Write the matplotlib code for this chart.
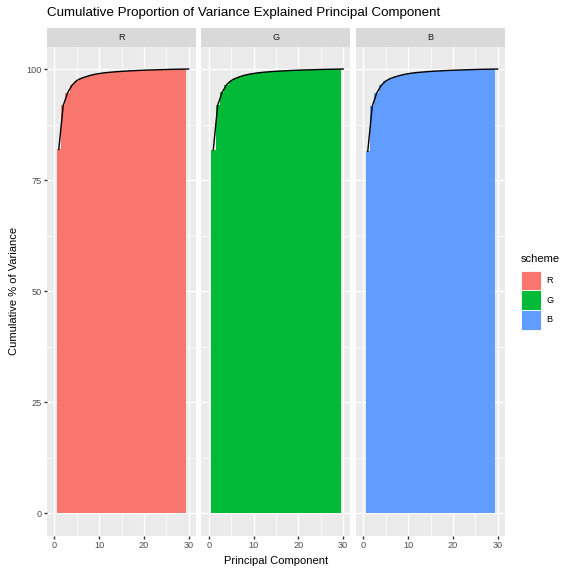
import matplotlib
matplotlib.use("Agg")
import matplotlib.pyplot as plt
from matplotlib.patches import Patch
import numpy as np

plt.rcParams['font.family'] = ['Liberation Sans', 'DejaVu Sans']

schemes = ["R", "G", "B"]
colors = ["#F8766D", "#00BA38", "#619CFF"]
pc = list(range(1, 31))
cum_R = [81.9, 91.8, 94.7, 96.4, 97.4, 97.9, 98.25, 98.55, 98.8, 98.98,
         99.12, 99.23, 99.32, 99.4, 99.47, 99.53, 99.59, 99.64, 99.69, 99.73,
         99.77, 99.8, 99.83, 99.86, 99.89, 99.92, 99.94, 99.96, 99.98, 100.0]
cum_G = [81.8, 91.9, 94.8, 96.5, 97.4, 97.9, 98.3, 98.6, 98.82, 99.0,
         99.14, 99.25, 99.34, 99.42, 99.49, 99.55, 99.6, 99.65, 99.7, 99.74,
         99.78, 99.81, 99.84, 99.87, 99.9, 99.92, 99.94, 99.96, 99.98, 100.0]
cum_B = [81.5, 91.6, 94.6, 96.3, 97.3, 97.85, 98.2, 98.5, 98.75, 98.95,
         99.1, 99.21, 99.3, 99.38, 99.46, 99.52, 99.58, 99.63, 99.68, 99.72,
         99.76, 99.8, 99.83, 99.86, 99.89, 99.92, 99.94, 99.96, 99.98, 100.0]
cums = [cum_R, cum_G, cum_B]
x_ticks = [0, 10, 20, 30]
y_ticks = [0, 25, 50, 75, 100]

W, H = 566, 572
fig = plt.figure(figsize=(W / 100, H / 100), dpi=100)

panel_top, panel_bot = 46.8, 535.5
panel_w = 149.0
lefts = [46.8, 201.3, 355.8]
strip_h = 18.5

for i, (name, col, cum) in enumerate(zip(schemes, colors, cums)):
    left = lefts[i]
    ax = fig.add_axes([left / W, 1 - panel_bot / H, panel_w / W, (panel_bot - panel_top) / H])
    ax.set_facecolor("#EBEBEB")
    ax.set_xlim(-1.67, 31.58)
    ax.set_ylim(-5, 105)
    ax.set_xticks(x_ticks)
    ax.set_xticks([5, 15, 25], minor=True)
    ax.set_yticks(y_ticks)
    ax.set_yticks([12.5, 37.5, 62.5, 87.5], minor=True)
    ax.grid(which="major", color="white", linewidth=1.0)
    ax.grid(which="minor", color="white", linewidth=0.5)
    ax.set_axisbelow(True)
    for s in ax.spines.values():
        s.set_visible(False)
    ax.tick_params(which="major", length=2.0, width=1.0, color="#333333",
                   labelcolor="#4D4D4D", labelsize=6.6, pad=1.6)
    ax.tick_params(which="minor", length=0)
    if i > 0:
        ax.tick_params(axis="y", which="major", length=0, labelleft=False)
    ax.bar(pc[:-1], cum[:-1], width=1.0, color=col, linewidth=0, zorder=2)
    ax.plot(pc, cum, color="black", linewidth=1.0, zorder=3)

    sax = fig.add_axes([left / W, 1 - panel_top / H, panel_w / W, strip_h / H])
    sax.set_facecolor("#D9D9D9")
    sax.set_xticks([])
    sax.set_yticks([])
    for s in sax.spines.values():
        s.set_visible(False)
    sax.text(0.5, 0.5, name, ha="center", va="center", fontsize=6.6,
             color="#1A1A1A", transform=sax.transAxes)

fig.text(47 / W, 1 - 13 / H, "Cumulative Proportion of Variance Explained Principal Component",
         ha="left", va="center", fontsize=9.6, color="black")
fig.text(14 / W, 1 - 291 / H, "Cumulative % of Variance", rotation=90,
         ha="center", va="center", fontsize=8.0, color="black")
fig.text(275.8 / W, 1 - 561 / H, "Principal Component",
         ha="center", va="center", fontsize=8.0, color="black")

handles = [Patch(facecolor=c, edgecolor="white", linewidth=0.6) for c in colors]
leg = fig.legend(handles, schemes, title="scheme", loc="upper left",
                 bbox_to_anchor=(521 / W, 1 - 254 / H), frameon=False,
                 fontsize=6.6, title_fontsize=8.0, handlelength=2.15,
                 handleheight=2.9, labelspacing=0.0, handletextpad=0.65,
                 borderaxespad=0, borderpad=0.0)
leg._legend_box.align = "left"
leg._legend_box.sep = 5

fig.savefig("out.png", dpi=100)
